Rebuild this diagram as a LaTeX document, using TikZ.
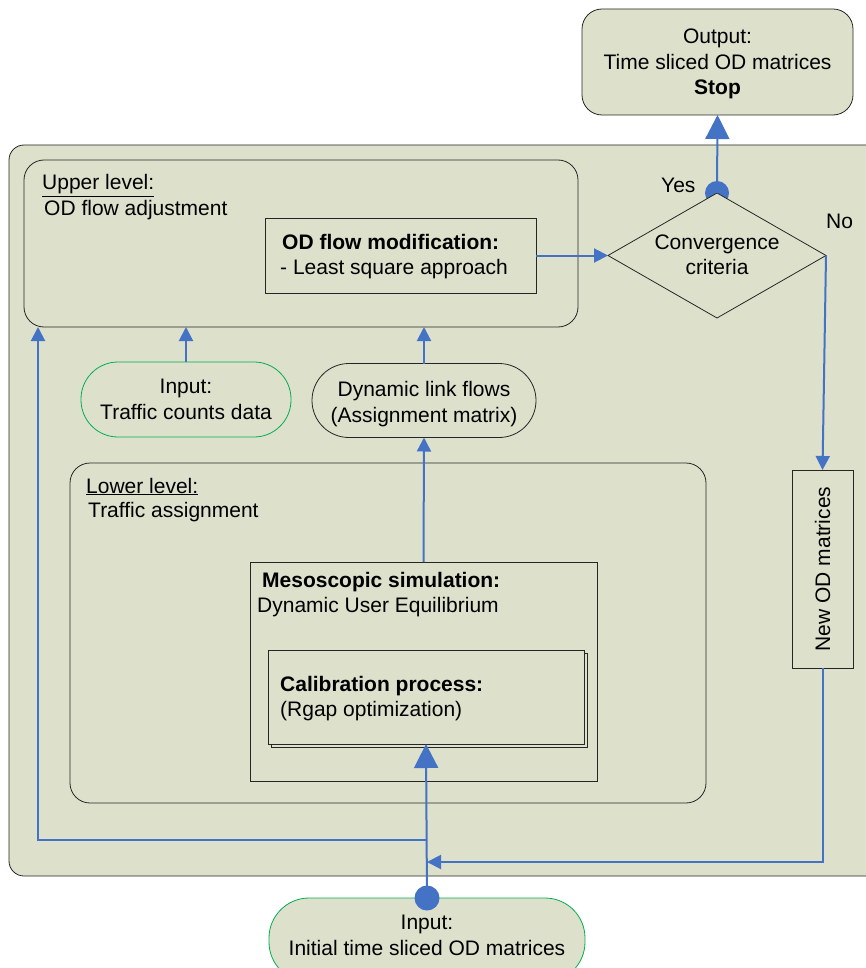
\documentclass[tikz,border=0pt]{standalone}
\usepackage{fontspec}
\setmainfont{Liberation Sans}
\usetikzlibrary{arrows.meta,shapes.geometric,shadows}
\definecolor{bg}{HTML}{DDE0CB}
\definecolor{ablue}{HTML}{4472C4}
\definecolor{igreen}{HTML}{00B050}
\begin{document}
\begin{tikzpicture}[x=1pt,y=-1pt,
  every node/.style={font=\fontsize{21}{25.5}\selectfont},
  shp/.style={draw=black!85, fill=bg, line width=0.8pt, inner sep=0pt, outer sep=0pt},
  rbox/.style={shp, rounded corners=20pt},
  pill/.style={shp, rounded corners=37pt},
  flow/.style={draw=ablue, line width=2pt},
  sarrow/.style={flow, -{Triangle[width=14pt,length=14pt]}},
  barrow/.style={flow, -{Triangle[width=24pt,length=24pt]}},
  lbl/.style={inner sep=0pt, anchor=base west},
  ctr/.style={inner sep=0pt, align=center}]
\useasboundingbox (0,0) rectangle (865,968);
% frame
\node[shp, rounded corners=15pt, minimum width=876pt, minimum height=731pt] (frame) at (447,510.5) {};
% output
\node[rbox, minimum width=271pt, minimum height=106pt] (out) at (717.5,62) {};
\node[ctr] (outt) at (717.5,64) {Output:\\Time sliced OD matrices\\\textbf{Stop}};
% upper level
\node[rbox, minimum width=554pt, minimum height=167pt] (upper) at (301,243.5) {};
\node[lbl] (ul) at (42,190) {\underline{Upper level:}};
\node[lbl] (ult) at (44,215) {OD flow adjustment};
\node[shp, minimum width=271pt, minimum height=75pt] (odmod) at (400.5,255.5) {};
\node[lbl] (odt1) at (282,249) {\textbf{OD flow modification:}};
\node[lbl] (odt2) at (280,274) {- Least square approach};
% decision
\coordinate (ctop) at (717,193);
\fill[ablue] (ctop) circle (12pt);
\node[shp, diamond, minimum width=218pt, minimum height=125pt] (conv) at (717,255.5) {};
\node[ctr] (convt) at (717,255) {Convergence\\criteria};
\node[lbl] (yes) at (661,193) {Yes};
\node[lbl] (no) at (826,229) {No};
% inputs / link flows
\node[pill, draw=igreen, ctr, minimum width=210pt, minimum height=75pt] (tc) at (186,399.5)
  {Input:\\Traffic counts data};
\node[pill, minimum width=224pt, minimum height=74pt] (dyn) at (424,400.5) {};
\node[ctr] (dynt) at (424,404) {Dynamic link flows\\(Assignment matrix)};
% lower level
\node[rbox, minimum width=636pt, minimum height=340pt] (lower) at (388,633) {};
\node[lbl] (ll) at (86,493) {\underline{Lower level:}};
\node[lbl] (llt) at (88,517) {Traffic assignment};
\node[shp, minimum width=347pt, minimum height=219pt] (meso) at (423.5,671.5) {};
\node[lbl] (mt1) at (262,587) {\textbf{Mesoscopic simulation:}};
\node[lbl] (mt2) at (257,612) {Dynamic User Equilibrium};
\node[shp, copy shadow={shadow xshift=3pt, shadow yshift=-3pt}, minimum width=316pt, minimum height=94pt] (cal) at (426,697) {};
\node[lbl] (ct1) at (280,691) {\textbf{Calibration process:}};
\node[lbl] (ct2) at (280,716) {(Rgap optimization)};
% new OD
\node[shp, minimum width=61pt, minimum height=198pt] (newod) at (822.5,569) {};
\node[rotate=90, inner sep=0pt] (newodt) at (822.5,569) {New OD matrices};
% initial input
\node[shp, draw=igreen, rounded corners=40pt, minimum width=316pt, minimum height=84pt] (inp) at (427,940) {};
\node[ctr] (inpt) at (427,935.5) {Input:\\Initial time sliced OD matrices};
% connectors
\coordinate (split) at (427,840);
\coordinate (join) at (427,862);
\draw[sarrow] (odmod.east) -- (conv.west);
\draw[barrow] (conv.north) -- (out.south);
\draw[sarrow] (conv.east) -- (newod.north);
\draw[sarrow] (newod.south) |- (join);
\draw[barrow] (inp.north) -- (cal.south);
\draw[sarrow] (split) -| ([xshift=14pt]upper.south west);
\draw[sarrow] (tc.north) -- (tc.north |- upper.south);
\draw[sarrow] (dyn.north) -- (dyn.north |- upper.south);
\draw[sarrow] (meso.north) -- (dyn.south);
\fill[ablue] (inp.north) circle (12.5pt);
\end{tikzpicture}
\end{document}
